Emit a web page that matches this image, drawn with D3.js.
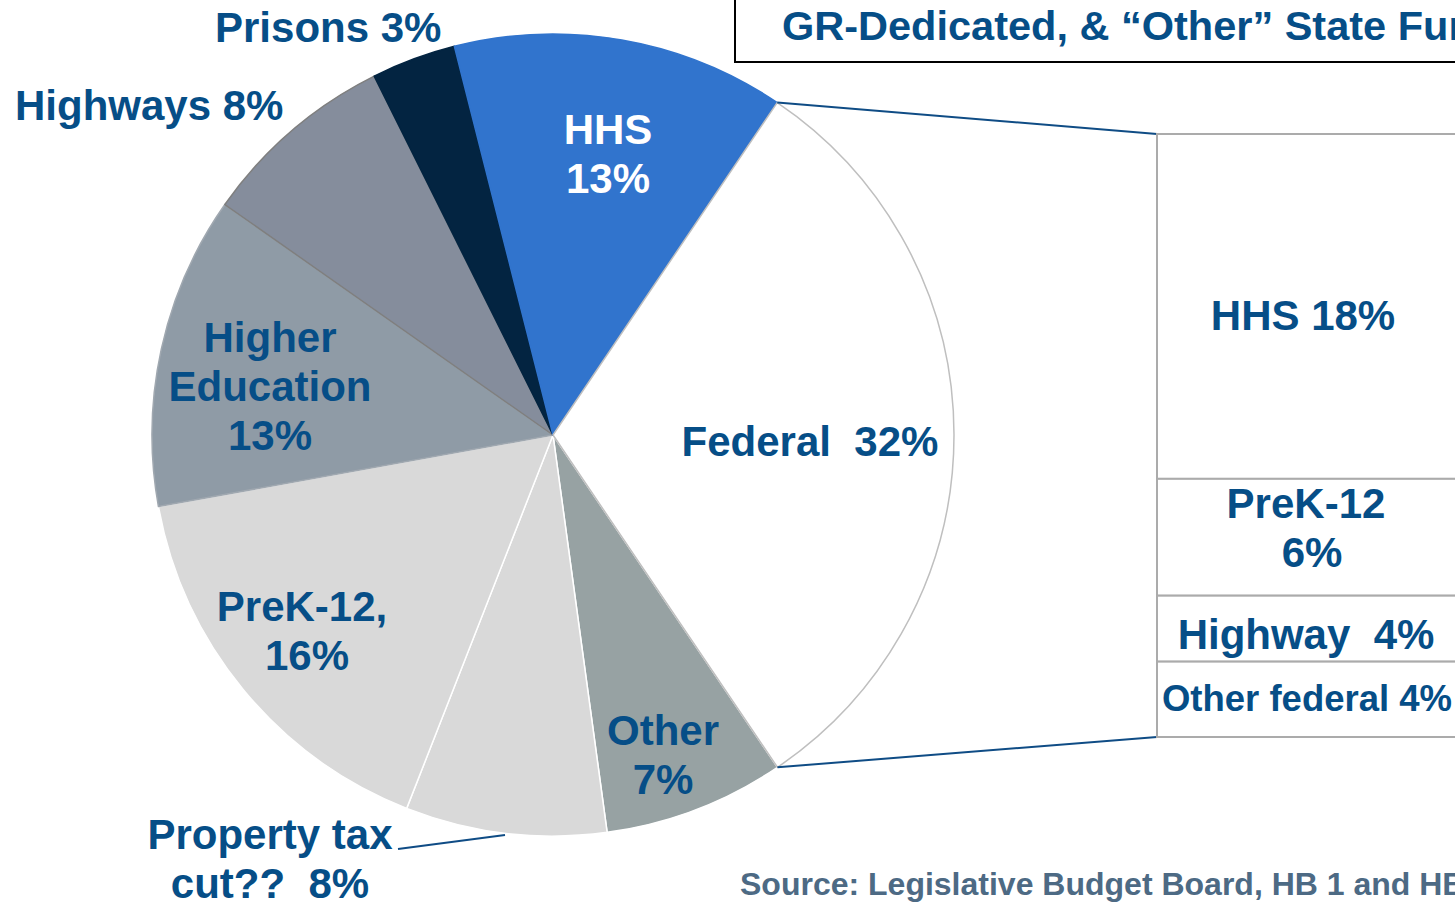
<!DOCTYPE html>
<html>
<head>
<meta charset="utf-8">
<script src="https://cdn.jsdelivr.net/npm/d3@7"></script>
<style>
  html, body { margin: 0; padding: 0; background: #fff; overflow: hidden; }
  text { font-family: "Liberation Sans", Arial, sans-serif; font-weight: bold; }
</style>
</head>
<body>
<script>
// pie slices, clockwise from the federal slice
var categories = ["Federal", "Other", "Property tax cut??", "PreK-12", "Higher Education", "Highways", "Prisons", "HHS"];
var shares = [31.1, 7.3, 8.1, 16.2, 12.6, 7.9, 3.4, 13.4];
var shareLabels = ["32%", "7%", "8%", "16%", "13%", "8%", "3%", "13%"];
var sliceColors = ["#ffffff", "#97a2a3", "#d9d9d9", "#d9d9d9", "#8f9ba6", "#858d9c", "#032441", "#3174cd"];
var sliceStrokes = ["#bfbfbf", "#ffffff", "#ffffff", "#ffffff", "#a0a8b0", "#7f7f7f", "#032441", "#3174cd"];

// federal breakdown bar
var federalParts = ["HHS", "PreK-12", "Highway", "Other federal"];
var federalShares = [18.3, 6.2, 3.5, 4.0];
var federalLabels = ["18%", "6%", "4%", "4%"];

var titleText = "GR-Dedicated, & \u201cOther\u201d State Funds";
var sourceText = "Source: Legislative Budget Board, HB 1 and HB 2";

var width = 1455,
	height = 902,
	cx = 553,
	cy = 435,
	radius = 401,
	textBlue = "#064e87",
	start = 34 * Math.PI / 180;

var svg = d3.select("body").append("svg")
	.attr("width", width)
	.attr("height", height);

// title box (runs off the top and right edge)
svg.append("rect")
	.attr("x", 735).attr("y", -10)
	.attr("width", 800).attr("height", 72)
	.attr("fill", "none")
	.attr("stroke", "#000")
	.attr("stroke-width", 2);

svg.append("text")
	.attr("x", 782).attr("y", 40)
	.attr("font-size", 41.5)
	.attr("fill", textBlue)
	.text(titleText);

var pie = d3.pie().sort(null).value(function(d) { return d; })
	.startAngle(start).endAngle(start + 2 * Math.PI);
var arc = d3.arc().innerRadius(0).outerRadius(radius);
var arcs = pie(shares);

// federal drawn last so its grey outline sits on top
var order = [1, 2, 3, 4, 5, 6, 7, 0];

svg.append("g")
	.attr("transform", "translate(" + cx + "," + cy + ")")
	.selectAll("path")
	.data(order.map(function(i) { return arcs[i]; }))
	.enter().append("path")
	.attr("d", arc)
	.attr("fill", function(d) { return sliceColors[d.index]; })
	.attr("stroke", function(d) { return sliceStrokes[d.index]; })
	.attr("stroke-width", 1.5)
	.attr("stroke-linejoin", "round");

function edgePoint(a) {
	return [cx + radius * Math.sin(a), cy - radius * Math.cos(a)];
}

// stacked federal bar
var barX = 1157,
	barW = 300;
var y = d3.scaleLinear()
	.domain([0, d3.sum(federalShares)])
	.range([134, 737]);

var cum = 0;
var stacked = federalShares.map(function(v, i) {
	var s = { name: federalParts[i], label: federalLabels[i], y0: cum, y1: cum + v };
	cum += v;
	return s;
});

// connectors from the federal slice to the bar
var fed = arcs[0];
var p0 = edgePoint(fed.startAngle),
	p1 = edgePoint(fed.endAngle);
svg.append("line")
	.attr("x1", p0[0]).attr("y1", p0[1])
	.attr("x2", barX).attr("y2", y(0))
	.attr("stroke", "#0f4c85").attr("stroke-width", 2);
svg.append("line")
	.attr("x1", p1[0]).attr("y1", p1[1])
	.attr("x2", barX).attr("y2", y(cum))
	.attr("stroke", "#0f4c85").attr("stroke-width", 2);

svg.append("g").selectAll("rect")
	.data(stacked)
	.enter().append("rect")
	.attr("x", barX)
	.attr("y", function(d) { return y(d.y0); })
	.attr("width", barW)
	.attr("height", function(d) { return y(d.y1) - y(d.y0); })
	.attr("fill", "#fff")
	.attr("stroke", "#ababab")
	.attr("stroke-width", 2);

// bar labels
var barLabels = [
	{ lines: [federalParts[0] + " " + federalLabels[0]], x: 1303, y: 330, size: 42 },
	{ lines: [federalParts[1], federalLabels[1]], x: 1306, y: 518, size: 42, dx: [0, 6] },
	{ lines: [federalParts[2] + "\u00a0 " + federalLabels[2]], x: 1306, y: 649, size: 42 },
	{ lines: [federalParts[3] + " " + federalLabels[3]], x: 1307, y: 711, size: 36.5 }
];

// pie labels
var pieLabels = [
	{ lines: [categories[7], shareLabels[7]], x: 608, y: 144, fill: "#fff" },
	{ lines: [categories[0] + "\u00a0 " + shareLabels[0]], x: 810, y: 456 },
	{ lines: [categories[1], shareLabels[1]], x: 663, y: 745 },
	{ lines: [categories[3] + ",", shareLabels[3]], x: 302, y: 621, dx: [0, 5] },
	{ lines: ["Higher", "Education", shareLabels[4]], x: 270, y: 352 },
	{ lines: [categories[5] + " " + shareLabels[5]], x: 15, y: 120, anchor: "start" },
	{ lines: [categories[6] + " " + shareLabels[6]], x: 215, y: 42, anchor: "start" },
	{ lines: ["Property tax", "cut??\u00a0 " + shareLabels[2]], x: 270, y: 849 }
];

function drawLabel(d) {
	var t = svg.append("text")
		.attr("x", d.x).attr("y", d.y)
		.attr("font-size", d.size || 42)
		.attr("text-anchor", d.anchor || "middle")
		.attr("fill", d.fill || textBlue);
	d.lines.forEach(function(line, i) {
		t.append("tspan")
			.attr("x", d.x + (d.dx ? d.dx[i] : 0))
			.attr("y", d.y + i * 49)
			.text(line);
	});
}

barLabels.forEach(drawLabel);
pieLabels.forEach(drawLabel);

// leader line for the property tax label
svg.append("line")
	.attr("x1", 398).attr("y1", 849)
	.attr("x2", 505).attr("y2", 835)
	.attr("stroke", "#0f4c85").attr("stroke-width", 2);

svg.append("text")
	.attr("x", 740).attr("y", 895)
	.attr("font-size", 32)
	.attr("fill", "#4d6a84")
	.text(sourceText);
</script>
</body>
</html>
